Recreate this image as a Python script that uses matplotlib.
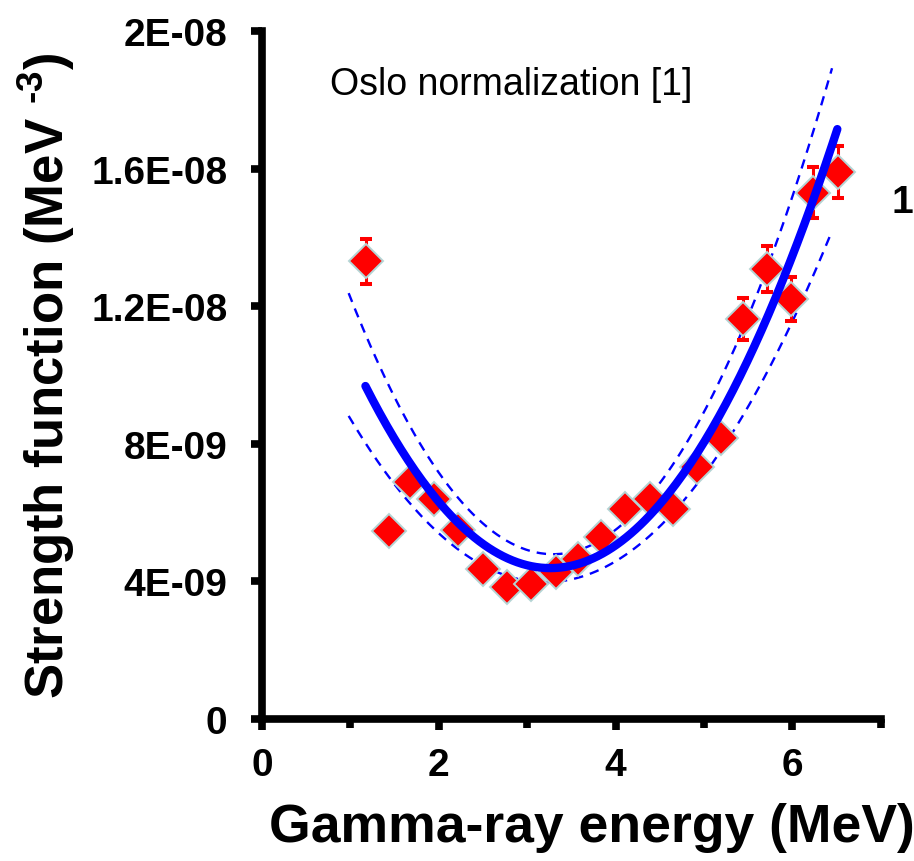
import numpy as np
import matplotlib
matplotlib.use("Agg")
import matplotlib.pyplot as plt

plt.rcParams['font.family'] = ['Liberation Sans', 'DejaVu Sans']
plt.rcParams['mathtext.fontset'] = 'custom'
plt.rcParams['mathtext.rm'] = 'Liberation Sans'
plt.rcParams['mathtext.bf'] = 'Liberation Sans:bold'

# measured strength function (MeV^-3)
energy = [1.18, 1.44, 1.67, 1.95, 2.22, 2.50, 2.77, 3.04, 3.33, 3.57, 3.83,
          4.11, 4.39, 4.65, 4.92, 5.19, 5.44, 5.71, 5.98, 6.23, 6.52]
strength = [13.3, 5.47, 6.90, 6.40, 5.50, 4.36, 3.84, 3.92, 4.27, 4.65, 5.29,
            6.10, 6.40, 6.10, 7.33, 8.17, 11.63, 13.08, 12.20, 15.30, 15.90]
strength_err = [0.65, 0.15, 0.25, 0.25, 0.2, 0.15, 0.15, 0.15, 0.15, 0.15, 0.2,
                0.2, 0.2, 0.2, 0.25, 0.25, 0.60, 0.66, 0.64, 0.75, 0.75]

# quadratic trend line and its band (coefficients in units of 1E-9, highest power first)
fit_coef = [1.2095, -7.8905, 17.256]
fit_range = [1.17, 6.51]
upper_coef = [1.4178, -9.339, 20.170]
lower_coef = [0.9725, -6.2423, 13.9935]
band_range = [0.98, 6.45]

yticks = [0, 4e-9, 8e-9, 1.2e-8, 1.6e-8, 2e-8]
ytick_labels = ['0', '4E-09', '8E-09', '1.2E-08', '1.6E-08', '2E-08']
xticks = [0, 2, 4, 6]
xtick_labels = ['0', '2', '4', '6']
xticks_minor = [1, 3, 5, 7]

scale = 1e-9

fig = plt.figure(figsize=(9.14, 8.62), dpi=100)
ax = fig.add_axes([0.2867, 0.1647, 0.9635 - 0.2867, 0.9629 - 0.1647])

xs = np.linspace(band_range[0], band_range[1], 200)
ax.plot(xs, np.polyval(upper_coef, xs) * scale, color='#0000ff', lw=1.7,
        dashes=(4, 3), zorder=2)
ax.plot(xs, np.polyval(lower_coef, xs) * scale, color='#0000ff', lw=1.7,
        dashes=(4, 3), zorder=2)

ax.errorbar(energy, np.array(strength) * scale, yerr=np.array(strength_err) * scale,
            fmt='none', ecolor='#ff0000', elinewidth=2.2, capsize=4, capthick=2.9,
            zorder=3)
ax.plot(energy, np.array(strength) * scale, linestyle='none', marker='D',
        markersize=17, markerfacecolor='#ff0000', markeredgecolor='#b4d4d4',
        markeredgewidth=1.4, zorder=4)

xf = np.linspace(fit_range[0], fit_range[1], 200)
ax.plot(xf, np.polyval(fit_coef, xf) * scale, color='#0000ff', lw=6,
        solid_capstyle='round', zorder=5)

ax.set_xlim(0, 7)
ax.set_ylim(0, 2e-8)
ax.set_xticks(xticks)
ax.set_xticklabels(xtick_labels)
ax.set_xticks(xticks_minor, minor=True)
ax.set_yticks(yticks)
ax.set_yticklabels(ytick_labels)

for s in ['top', 'right']:
    ax.spines[s].set_visible(False)
for s in ['left', 'bottom']:
    ax.spines[s].set_linewidth(5.5)
    ax.spines[s].set_capstyle('projecting')

ax.tick_params(axis='both', which='major', direction='out', length=8,
               width=5.5, labelsize=28)
ax.tick_params(axis='x', which='minor', direction='out', length=6.5, width=5.5)
ax.tick_params(axis='x', which='major', pad=12)
ax.tick_params(axis='y', which='major', pad=17)
for lab in ax.get_xticklabels() + ax.get_yticklabels():
    lab.set_fontweight('bold')

ax.set_xlabel('Gamma-ray energy (MeV)', fontsize=38.5, fontweight='bold',
              labelpad=14, x=0.534)
ax.set_ylabel('Strength function (MeV $^{\\mathbf{\u20103}}$)', fontsize=38,
              fontweight='bold', labelpad=10)

ax.text(0.77, 18.46e-9, 'Oslo normalization [1]', fontsize=27, va='center',
        ha='left')
fig.text(892 / 914, 1 - 203 / 862, '1', fontsize=28, fontweight='bold',
         va='center', ha='left')

fig.savefig('out.png', dpi=100)
